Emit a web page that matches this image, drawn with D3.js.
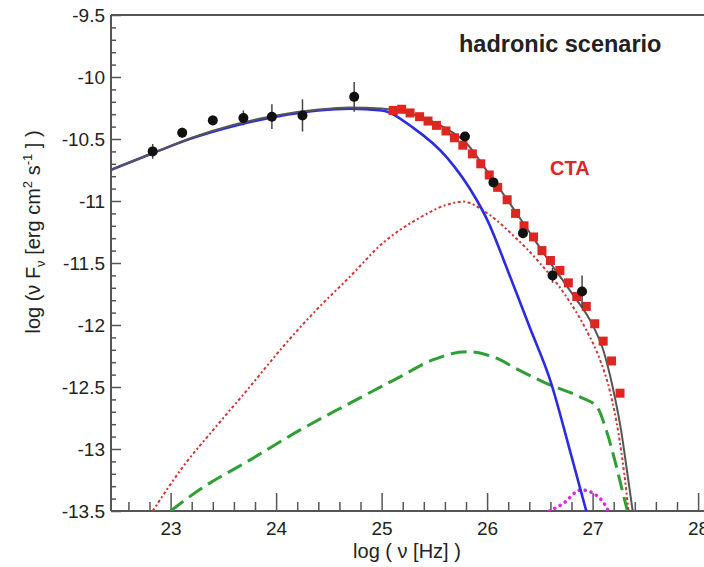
<!DOCTYPE html>
<html>
<head>
<meta charset="utf-8">
<script src="https://cdn.jsdelivr.net/npm/d3@7"></script>
<style>
  body { margin: 0; background: #fff; }
  text { font-family: "Liberation Sans", Arial, sans-serif; fill: #222; }
</style>
</head>
<body>
<div id="chart"></div>
<script>
// ---- data (log nu [Hz], log nuFnu) ----
const dotX   = [22.83, 23.11, 23.40, 23.69, 23.96, 24.25, 24.74, 25.79, 26.06, 26.34, 26.62, 26.90];
const dotY   = [-10.60, -10.45, -10.35, -10.33, -10.32, -10.31, -10.16, -10.48, -10.85, -11.26, -11.60, -11.73];
const dotErr = [0.06, 0.04, 0.04, 0.06, 0.10, 0.13, 0.12, 0.03, 0.03, 0.04, 0.06, 0.13];

const ctaX = [25.11, 25.19, 25.27, 25.36, 25.44, 25.52, 25.61, 25.69, 25.77, 25.86, 25.94, 26.02, 26.10, 26.19,
              26.27, 26.35, 26.44, 26.52, 26.60, 26.69, 26.77, 26.85, 26.94, 27.02, 27.10, 27.18, 27.26];
const ctaY = [-10.27, -10.26, -10.29, -10.32, -10.355, -10.39, -10.435, -10.49, -10.55, -10.62, -10.70, -10.79, -10.89, -10.99,
              -11.10, -11.20, -11.29, -11.40, -11.48, -11.56, -11.66, -11.77, -11.85, -11.99, -12.13, -12.29, -12.55];

const totalModel = [[22.43,-10.75],[22.8,-10.625],[23.2,-10.49],[23.6,-10.385],[24.0,-10.31],[24.4,-10.262],
  [24.7,-10.245],[25.0,-10.255],[25.2,-10.28],[25.4,-10.33],[25.6,-10.41],[25.8,-10.53],[26.0,-10.76],
  [26.2,-11.0],[26.4,-11.25],[26.6,-11.5],[26.8,-11.74],[27.0,-12.0],[27.1,-12.2],[27.19,-12.5],
  [27.27,-12.85],[27.33,-13.2],[27.38,-13.5]];

const leptonic = [[22.43,-10.75],[22.8,-10.625],[23.2,-10.495],[23.6,-10.395],[24.0,-10.32],[24.4,-10.27],
  [24.7,-10.255],[25.0,-10.27],[25.3,-10.41],[25.62,-10.65],[25.9,-10.99],[26.0,-11.15],[26.2,-11.57],
  [26.4,-12.01],[26.6,-12.45],[26.8,-13.06],[26.94,-13.5]];

const pionDecay = [[22.83,-13.5],[23.12,-13.14],[23.43,-12.82],[23.75,-12.5],[24.06,-12.18],[24.38,-11.88],
  [24.70,-11.61],[25.01,-11.34],[25.33,-11.15],[25.62,-11.03],[25.77,-11.005],[26.02,-11.11],[26.25,-11.28],
  [26.5,-11.5],[26.75,-11.77],[26.94,-12.04],[27.07,-12.28],[27.16,-12.52],[27.25,-12.9],[27.3,-13.2],[27.34,-13.5]];

const secondary = [[23.0,-13.5],[23.27,-13.33],[23.75,-13.09],[24.22,-12.85],[24.70,-12.63],[25.17,-12.42],
  [25.49,-12.28],[25.80,-12.215],[25.95,-12.23],[26.12,-12.28],[26.25,-12.34],[26.56,-12.47],[26.88,-12.58],
  [27.04,-12.66],[27.13,-12.85],[27.21,-13.09],[27.28,-13.33],[27.33,-13.5]];

const muonSync = [[26.59,-13.5],[26.72,-13.44],[26.89,-13.33],[27.03,-13.37],[27.11,-13.44],[27.15,-13.5]];

const xMajor = [23, 24, 25, 26, 27, 28];
const yMajor = [-9.5, -10, -10.5, -11, -11.5, -12, -12.5, -13, -13.5];

// ---- layout ----
const W = 704, H = 567;
const plotLeft = 111, plotTop = 15, plotBottom = 511;
const axisColor = "#555";

const svg = d3.select("#chart").append("svg")
    .attr("width", W)
    .attr("height", H);

svg.append("rect").attr("width", W).attr("height", H).attr("fill", "#fff");

const x = d3.scaleLinear().domain([22.435, 28.5]).range([plotLeft, plotLeft + 6.065 * 105.5]);
const y = d3.scaleLinear().domain([-13.5, -9.5]).range([plotBottom, plotTop]);

svg.append("defs").append("clipPath").attr("id", "plotClip")
    .append("rect")
    .attr("x", plotLeft).attr("y", plotTop)
    .attr("width", W - plotLeft).attr("height", plotBottom - plotTop);

// minor ticks
const xMinor = d3.range(22.6, 28.41, 0.2).filter(v => Math.abs(v - Math.round(v)) > 0.05);
const yMinor = d3.range(-13.4, -9.55, 0.1).filter(v => Math.abs(v * 2 - Math.round(v * 2)) > 0.05);

svg.append("g")
    .attr("transform", "translate(0," + plotBottom + ")")
    .call(d3.axisBottom(x).tickValues(xMinor).tickSize(-9).tickFormat(""))
    .call(g => g.select(".domain").remove())
    .call(g => g.selectAll("line").attr("stroke", axisColor).attr("stroke-width", 1.5));

svg.append("g")
    .attr("transform", "translate(" + plotLeft + ",0)")
    .call(d3.axisLeft(y).tickValues(yMinor).tickSize(-5).tickFormat(""))
    .call(g => g.select(".domain").remove())
    .call(g => g.selectAll("line").attr("stroke", axisColor).attr("stroke-width", 1.5));

// major ticks + labels
const xAxis = svg.append("g")
    .attr("transform", "translate(0," + plotBottom + ")")
    .call(d3.axisBottom(x).tickValues(xMajor).tickSizeInner(-18).tickSizeOuter(0).tickPadding(11)
        .tickFormat(d3.format("d")));
xAxis.select(".domain").remove();
xAxis.selectAll("line").attr("stroke", axisColor).attr("stroke-width", 1.5);
xAxis.selectAll("text").attr("font-size", 19).attr("fill", "#222");

const yAxis = svg.append("g")
    .attr("transform", "translate(" + plotLeft + ",0)")
    .call(d3.axisLeft(y).tickValues(yMajor).tickSizeInner(-10).tickSizeOuter(0).tickPadding(6)
        .tickFormat(d => d3.format("")(d).replace("\u2212", "-")));
yAxis.select(".domain").remove();
yAxis.selectAll("line").attr("stroke", axisColor).attr("stroke-width", 1.5);
yAxis.selectAll("text").attr("font-size", 19).attr("fill", "#222");

// frame
svg.append("line").attr("x1", plotLeft).attr("x2", W).attr("y1", plotTop).attr("y2", plotTop)
    .attr("stroke", axisColor).attr("stroke-width", 2);
svg.append("line").attr("x1", plotLeft).attr("x2", W).attr("y1", plotBottom).attr("y2", plotBottom)
    .attr("stroke", axisColor).attr("stroke-width", 2);
svg.append("line").attr("x1", plotLeft).attr("x2", plotLeft).attr("y1", plotTop).attr("y2", plotBottom)
    .attr("stroke", axisColor).attr("stroke-width", 2);

// curves
const line = d3.line()
    .x(d => x(d[0]))
    .y(d => y(d[1]))
    .curve(d3.curveMonotoneX);

const plot = svg.append("g").attr("clip-path", "url(#plotClip)");

plot.append("path").datum(secondary)
    .attr("d", line).attr("fill", "none")
    .attr("stroke", "#2f9e36").attr("stroke-width", 3)
    .attr("stroke-dasharray", "16,7");

plot.append("path").datum(pionDecay)
    .attr("d", line).attr("fill", "none")
    .attr("stroke", "#d23434").attr("stroke-width", 2)
    .attr("stroke-dasharray", "3,2.5,2,2.5");

plot.append("path").datum(muonSync)
    .attr("d", line).attr("fill", "none")
    .attr("stroke", "#e028e0").attr("stroke-width", 3.5)
    .attr("stroke-linecap", "round")
    .attr("stroke-dasharray", "0.1,6");

plot.append("path").datum(leptonic)
    .attr("d", line).attr("fill", "none")
    .attr("stroke", "#2b2be6").attr("stroke-width", 2.6);

plot.append("path").datum(totalModel)
    .attr("d", line).attr("fill", "none")
    .attr("stroke", "#555").attr("stroke-width", 2);

// CTA squares
const sq = 9;
plot.selectAll(".cta")
    .data(ctaX.map((v, i) => ({x: v, y: ctaY[i]})))
    .enter().append("rect")
    .attr("class", "cta")
    .attr("x", d => x(d.x) - sq / 2)
    .attr("y", d => y(d.y) - sq / 2)
    .attr("width", sq).attr("height", sq)
    .attr("fill", "#dd2620");

// measured points with error bars
const pts = dotX.map((v, i) => ({x: v, y: dotY[i], e: dotErr[i]}));
plot.selectAll(".err")
    .data(pts)
    .enter().append("line")
    .attr("class", "err")
    .attr("x1", d => x(d.x)).attr("x2", d => x(d.x))
    .attr("y1", d => y(d.y + d.e)).attr("y2", d => y(d.y - d.e))
    .attr("stroke", "#444").attr("stroke-width", 1.5);

plot.selectAll(".dot")
    .data(pts)
    .enter().append("circle")
    .attr("class", "dot")
    .attr("cx", d => x(d.x)).attr("cy", d => y(d.y))
    .attr("r", 5)
    .attr("fill", "#111");

// annotations
svg.append("text")
    .attr("x", 459).attr("y", 52)
    .attr("font-size", 23.5).attr("font-weight", "bold")
    .text("hadronic scenario");

svg.append("text")
    .attr("x", 550).attr("y", 175)
    .attr("font-size", 20).attr("font-weight", "bold")
    .style("fill", "#d8282a")
    .text("CTA");

// axis titles
svg.append("text")
    .attr("x", 407).attr("y", 558)
    .attr("text-anchor", "middle")
    .attr("font-size", 20)
    .text("log ( \u03bd [Hz] )");

const yTitle = svg.append("text")
    .attr("transform", "translate(40,232) rotate(-90)")
    .attr("text-anchor", "middle")
    .attr("font-size", 20);
yTitle.append("tspan").text("log (\u03bd F");
yTitle.append("tspan").attr("dy", 5).attr("font-size", 13).text("\u03bd");
yTitle.append("tspan").attr("dy", -5).text(" [erg cm");
yTitle.append("tspan").attr("dy", -8).attr("font-size", 13).text("2");
yTitle.append("tspan").attr("dy", 8).text(" s");
yTitle.append("tspan").attr("dy", -8).attr("font-size", 13).text("-1");
yTitle.append("tspan").attr("dy", 8).text(" ] )");
</script>
</body>
</html>
